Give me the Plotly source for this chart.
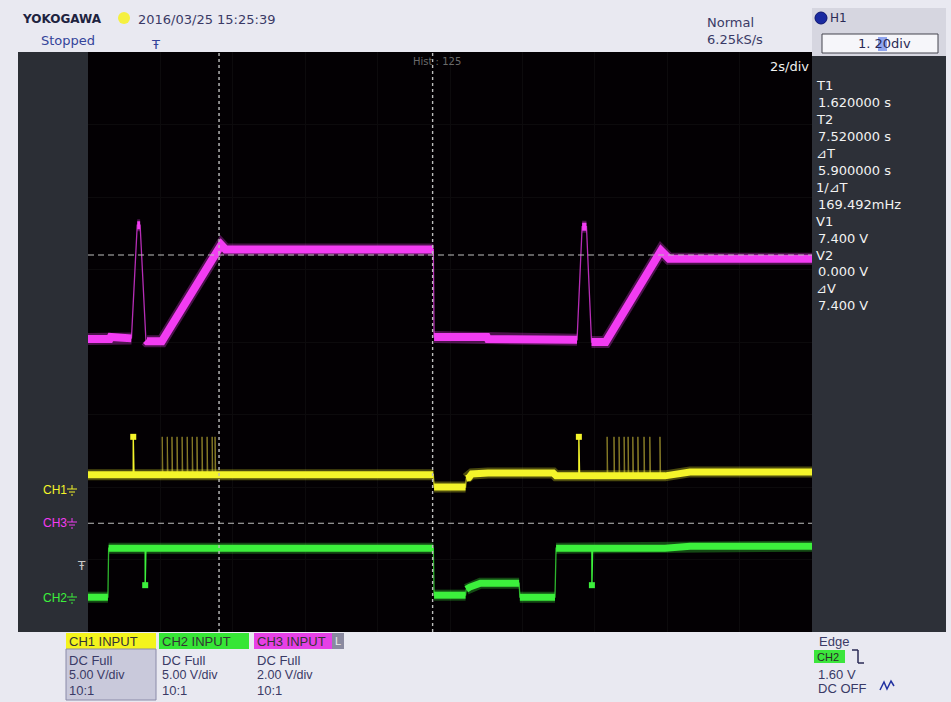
import plotly.graph_objects as go

W, H = 951, 702

# ---- acquisition settings ----
SEC_PER_DIV = 2.0
T_LEFT, T_RIGHT = -2.0, 18.0
DIVS = 4

CH1_VDIV, CH1_OFS = 5.0, -2.04   # volts/div, ground position in divisions
CH2_VDIV, CH2_OFS = 5.0, -3.52
CH3_VDIV, CH3_OFS = 2.0, -2.50

# ---- CH3 (magenta) waveform: time [s], voltage [V] ----
ch3_t = [-2.00, -1.40, -1.37, -0.82, -0.80, -0.64, -0.56, -0.40, -0.37, 0.04,
         1.59, 1.68, 1.80, 7.54, 7.56, 9.02, 9.05, 11.49, 11.51, 11.65,
         11.77, 11.91, 11.93, 12.30, 13.83, 13.95, 14.05, 18.00]
ch3_v = [5.08, 5.08, 5.14, 5.14, 5.10, 8.22, 8.22, 5.05, 5.02, 5.02,
         7.62, 7.68, 7.55, 7.55, 5.14, 5.14, 5.08, 5.08, 5.06, 8.18,
         8.18, 5.00, 5.00, 5.00, 7.52, 7.42, 7.30, 7.30]

# ---- CH1 (yellow) waveform ----
ch1_t = [-2.00, 7.54, 7.56, 8.43, 8.45, 8.52, 8.60, 9.05, 10.85, 10.93,
         13.94, 14.63, 18.00]
ch1_v = [1.05, 1.05, 0.20, 0.20, 0.80, 0.85, 1.10, 1.17, 1.17, 0.97,
         0.97, 1.24, 1.24]
ch1_spike_t = [-0.75, 11.56]
ch1_burst_t = [0.05, 0.19, 0.32, 0.46, 0.60, 0.74, 0.88, 1.01, 1.15, 1.29, 1.43, 1.51,
               12.34, 12.53, 12.67, 12.81, 12.92, 13.05, 13.19, 13.36, 13.52, 13.80]
ch1_pulse_v = 3.66

# ---- CH2 (green) waveform ----
ch2_t = [-2.00, -1.45, -1.43, 7.54, 7.56, 8.43, 8.45, 8.55, 8.84, 9.91,
         9.93, 10.90, 10.93, 13.94, 14.63, 18.00]
ch2_v = [0.00, 0.00, 3.38, 3.38, 0.14, 0.14, 0.55, 0.70, 0.97, 0.97,
         0.00, 0.00, 3.38, 3.38, 3.52, 3.52]
ch2_glitch_t = [-0.42, 11.92]
ch2_glitch_v = 0.83

# ---- cursors and trigger ----
cursor_t = [1.62, 7.52]
cursor_v = [7.40, 0.00]   # measured on CH3
trig_level = 1.60

MAG = "#f23cf2"
YEL = "#f4f42a"
GRN = "#3cf03c"

UI = "DejaVu Sans"
UI2 = "Liberation Sans"


def to_div(v, vdiv, ofs):
    return [ofs + x / vdiv for x in v]


def split_thick(t, d, steep=3.0):
    """Break the trace where the edge is fast; fast edges are drawn thin."""
    xs, ys = [t[0]], [d[0]]
    for i in range(1, len(t)):
        dx = (t[i] - t[i - 1]) / SEC_PER_DIV
        dy = abs(d[i] - d[i - 1])
        if dx <= 0 or dy / dx > steep:
            xs.append(None)
            ys.append(None)
        xs.append(t[i])
        ys.append(d[i])
    return xs, ys


def channel_traces(t, v, vdiv, ofs, color, width):
    d = to_div(v, vdiv, ofs)
    tx, ty = split_thick(t, d)
    return [
        go.Scatter(x=t, y=d, mode="lines", line=dict(color=color, width=1.3),
                   opacity=0.75, hoverinfo="skip"),
        go.Scatter(x=tx, y=ty, mode="lines", line=dict(color=color, width=width + 4),
                   opacity=0.3, hoverinfo="skip", connectgaps=False),
        go.Scatter(x=tx, y=ty, mode="lines", line=dict(color=color, width=width),
                   hoverinfo="skip", connectgaps=False),
    ]


def pulse_lines(times, base_t, base_v, peak, vdiv, ofs):
    xs, ys = [], []
    for tp in times:
        # base level at this instant
        b = base_v[0]
        for i in range(len(base_t)):
            if base_t[i] <= tp:
                b = base_v[i]
        xs += [tp, tp, tp + 0.02, None]
        ys += [ofs + b / vdiv, ofs + peak / vdiv, ofs + b / vdiv, None]
    return xs, ys


fig = go.Figure()

for tr in channel_traces(ch3_t, ch3_v, CH3_VDIV, CH3_OFS, MAG, 8):
    fig.add_trace(tr)

# CH1 pulses
bx, by = pulse_lines(ch1_burst_t, ch1_t, ch1_v, ch1_pulse_v, CH1_VDIV, CH1_OFS)
fig.add_trace(go.Scatter(x=bx, y=by, mode="lines", line=dict(color="#a89a30", width=1),
                         opacity=0.8, hoverinfo="skip"))
sx, sy = pulse_lines(ch1_spike_t, ch1_t, ch1_v, ch1_pulse_v, CH1_VDIV, CH1_OFS)
fig.add_trace(go.Scatter(x=sx, y=sy, mode="lines", line=dict(color=YEL, width=1.4),
                         hoverinfo="skip"))
fig.add_trace(go.Scatter(x=ch1_spike_t, y=[CH1_OFS + ch1_pulse_v / CH1_VDIV] * len(ch1_spike_t),
                         mode="markers", marker=dict(color=YEL, size=6, symbol="square"),
                         hoverinfo="skip"))
for tr in channel_traces(ch1_t, ch1_v, CH1_VDIV, CH1_OFS, YEL, 7):
    fig.add_trace(tr)

# CH2 glitches
gx, gy = [], []
for tg in ch2_glitch_t:
    gx += [tg, tg, tg + 0.02, None]
    gy += [CH2_OFS + 3.38 / CH2_VDIV, CH2_OFS + ch2_glitch_v / CH2_VDIV,
           CH2_OFS + 3.38 / CH2_VDIV, None]
fig.add_trace(go.Scatter(x=gx, y=gy, mode="lines", line=dict(color=GRN, width=1.4),
                         hoverinfo="skip"))
fig.add_trace(go.Scatter(x=ch2_glitch_t, y=[CH2_OFS + ch2_glitch_v / CH2_VDIV] * 2,
                         mode="markers", marker=dict(color=GRN, size=6, symbol="square"),
                         hoverinfo="skip"))
for tr in channel_traces(ch2_t, ch2_v, CH2_VDIV, CH2_OFS, GRN, 7):
    fig.add_trace(tr)


def PX(x):
    return x / W


def PY(y):
    return 1 - y / H


shapes = []
annotations = []


def rect(x0, y0, x1, y1, fill, line=None, lw=0, layer="below"):
    shapes.append(dict(type="rect", xref="paper", yref="paper",
                       x0=PX(x0), x1=PX(x1), y0=PY(y1), y1=PY(y0),
                       fillcolor=fill, line=dict(color=line or fill, width=lw), layer=layer))


def seg(x0, y0, x1, y1, color, w=1):
    shapes.append(dict(type="line", xref="paper", yref="paper",
                       x0=PX(x0), x1=PX(x1), y0=PY(y0), y1=PY(y1),
                       line=dict(color=color, width=w)))


def txt(x, y, s, color="#2a2a55", size=13, anchor="left", bold=False, family=UI):
    annotations.append(dict(x=PX(x), y=PY(y), xref="paper", yref="paper",
                            text=("<b>%s</b>" % s) if bold else s,
                            showarrow=False, xanchor=anchor, yanchor="middle",
                            font=dict(color=color, size=size, family=family), borderpad=0))


# side panels
rect(18, 52, 88, 632, "#2b2e35")
rect(812, 56, 946, 632, "#2d3038")
rect(812, 8, 946, 56, "#d6d6e0")
rect(822, 34, 938, 53, "#f6f6fa", "#45454f", 1)

# cursors
for tc in cursor_t:
    shapes.append(dict(type="line", xref="x", yref="y", x0=tc, x1=tc, y0=-DIVS, y1=DIVS,
                       line=dict(color="#bdbdbd", width=1.4, dash="3px,3px")))
for vc in cursor_v:
    yv = CH3_OFS + vc / CH3_VDIV
    shapes.append(dict(type="line", xref="x", yref="y", x0=T_LEFT, x1=T_RIGHT, y0=yv, y1=yv,
                       line=dict(color="#bdbdbd", width=1.2, dash="6px,4px")))

# header
txt(21, 19, "YOKOGAWA", "#1e2340", 12, bold=True)
shapes.append(dict(type="circle", xref="paper", yref="paper", x0=PX(118), x1=PX(130),
                   y0=PY(24), y1=PY(12), fillcolor="#f5f040", line=dict(color="#f5f040", width=0)))
txt(137, 19, "2016/03/25 15:25:39", "#3a3a66")
txt(40, 41, "Stopped", "#34449a")
txt(150, 45, "Ŧ", "#34449a", 13)
txt(706, 22, "Normal", "#3a3a66")
txt(706, 40, "6.25kS/s", "#3a3a66")
shapes.append(dict(type="circle", xref="paper", yref="paper", x0=PX(815), x1=PX(827),
                   y0=PY(24), y1=PY(12), fillcolor="#1a2aa0", line=dict(color="#0c1470", width=1)))
txt(829, 18, "H1", "#2a2a55", 12)
rect(878, 37, 887, 51, "#8fa4ee")
txt(857, 44, "1. 20div", "#2a2a55", 13)

# screen texts
txt(412, 62, "Hist : 125", "#6a6a6a", 10)
txt(810, 66, "2s/div", "#f0f0f0", 13, anchor="right")

# measurement panel
meas = ["T1", "1.620000 s", "T2", "7.520000 s", "⊿T", "5.900000 s", "1/⊿T", "169.492mHz",
        "V1", "7.400 V", "V2", "0.000 V", "⊿V", "7.400 V"]
for i, s in enumerate(meas):
    indent = 815 if i % 2 == 0 else 817
    txt(indent, 86 + i * 16.9, s, "#f2f2f2", 13)

# channel markers on the left panel
txt(42, 490, "CH1", YEL, 12, family=UI2)
txt(42, 523, "CH3", MAG, 12, family=UI2)
txt(42, 598, "CH2", GRN, 12, family=UI2)
for yy, col in [(490, YEL), (523, MAG), (598, GRN)]:
    seg(67, yy - 1, 77, yy - 1, col, 1)
    seg(69, yy + 2, 75, yy + 2, col, 1)
    seg(71, yy + 5, 73, yy + 5, col, 1)
    seg(72, yy - 5, 72, yy - 1, col, 1)
txt(76, 566, "Ŧ", "#c8c8c8", 12)

# bottom channel info
rect(66, 633, 156, 649, "#f4f41c")
rect(66, 649, 156, 700, "#c9c9db", "#8a8aa8", 1)
rect(159, 633, 249, 649, "#36e636")
rect(254, 633, 332, 649, "#e640e6")
rect(332, 633, 344, 649, "#8a8aa0")
txt(68, 641, "CH1 INPUT", "#333333", 13, family=UI2)
txt(161, 641, "CH2 INPUT", "#333333", 13, family=UI2)
txt(256, 641, "CH3 INPUT", "#333333", 13, family=UI2)
txt(334, 641, "L", "#eeeeee", 11, family=UI2)
for xb, vd in [(68, "5.00 V/div"), (161, "5.00 V/div"), (256, "2.00 V/div")]:
    txt(xb, 660, "DC Full", "#3a3a66", 13, family=UI2)
    txt(xb, 675, vd, "#3a3a66", 12.5, family=UI2)
    txt(xb, 690, "10:1", "#3a3a66", 13, family=UI2)

# trigger info
txt(818, 641, "Edge", "#3a3a66", 13, family=UI2)
rect(814, 650, 845, 663, "#3ce63c")
txt(816, 657, "CH2", "#2a2a2a", 11, family=UI2)
seg(852, 650, 858, 650, "#2a2a55", 1.5)
seg(858, 650, 858, 663, "#2a2a55", 1.5)
seg(858, 663, 864, 663, "#2a2a55", 1.5)
txt(817, 674, "%.2f V" % trig_level, "#3a3a66", 13, family=UI2)
txt(817, 688, "DC OFF", "#3a3a66", 13, family=UI2)
shapes.append(dict(type="path", xref="paper", yref="paper",
                   path="M %f %f L %f %f L %f %f L %f %f L %f %f" % (
                       PX(880), PY(690), PX(884), PY(682), PX(887), PY(689), PX(891), PY(681), PX(894), PY(686)),
                   line=dict(color="#2030a0", width=1.5)))

fig.update_layout(
    width=W, height=H,
    margin=dict(l=0, r=0, t=0, b=0),
    paper_bgcolor="#e9e9f1",
    plot_bgcolor="#030003",
    showlegend=False,
    shapes=shapes,
    annotations=annotations,
    xaxis=dict(domain=[PX(88), PX(812)], range=[T_LEFT, T_RIGHT], dtick=SEC_PER_DIV,
               tick0=T_LEFT, showgrid=True, gridcolor="#0c0a0c", zeroline=False,
               showticklabels=False, ticks="", fixedrange=True),
    yaxis=dict(domain=[PY(632), PY(52)], range=[-DIVS, DIVS], dtick=1, tick0=-DIVS,
               showgrid=True, gridcolor="#0c0a0c", zeroline=False,
               showticklabels=False, ticks="", fixedrange=True),
)

fig.write_html("out.html")
